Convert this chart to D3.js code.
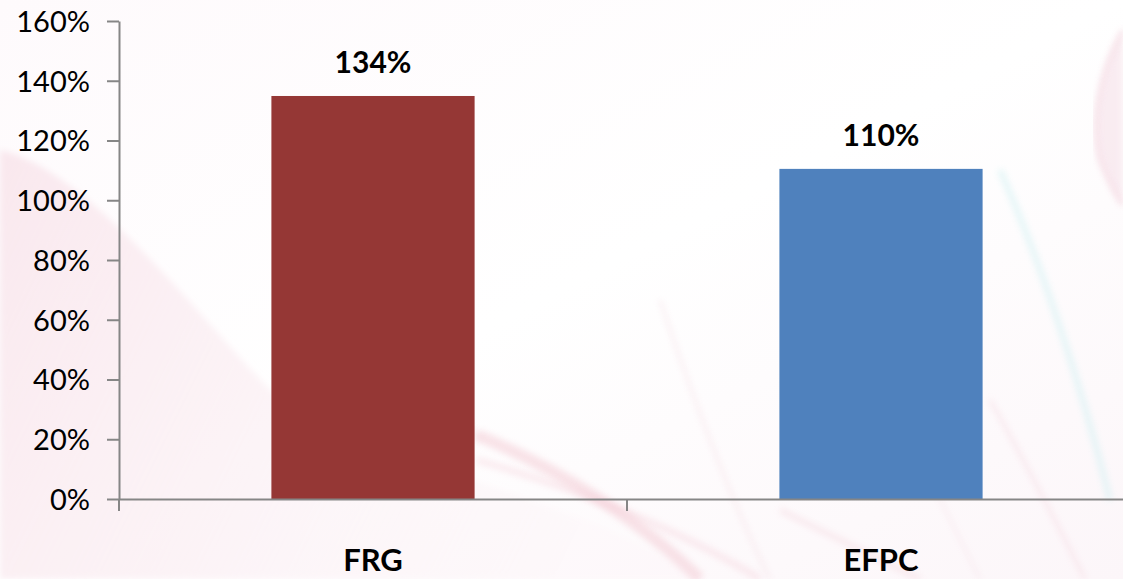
<!DOCTYPE html>
<html>
<head>
<meta charset="utf-8">
<script src="https://cdn.jsdelivr.net/npm/d3@7"></script>
<style>
  html, body { margin: 0; padding: 0; background: #fff; }
  svg { display: block; }
  .axis path, .axis line { stroke: #868686; stroke-width: 2; }
  .axis text { font-family: Lato, "Open Sans", sans-serif; font-size: 29px; fill: #000; }
</style>
</head>
<body>
<div class="viz"></div>
<script>
// chart data
var categories = ["FRG", "EFPC"];
var values = [134.9, 110.5];
var valueLabels = ["134%", "110%"];
var barColors = ["#953735", "#4F81BD"];
var yTicks = [0, 20, 40, 60, 80, 100, 120, 140, 160];

// dimensions
var width = 1123, height = 579;
var margin = { top: 21, left: 119, bottom: 80 };
var plotBottom = height - margin.bottom;

var svg = d3.select(".viz")
    .append("svg")
    .attr("width", width)
    .attr("height", height);

// background: soft pink / cyan swooshes
var defs = svg.append("defs");
var bg = defs.append("linearGradient").attr("id", "bg")
    .attr("x1", 0).attr("y1", 0).attr("x2", 1).attr("y2", 1);
bg.append("stop").attr("offset", 0).attr("stop-color", "#fefafc");
bg.append("stop").attr("offset", 0.5).attr("stop-color", "#ffffff");
bg.append("stop").attr("offset", 1).attr("stop-color", "#fcf6f9");

var pinkFade = defs.append("linearGradient").attr("id", "pinkFade")
    .attr("x1", 0).attr("y1", 0).attr("x2", 1).attr("y2", 0.3);
pinkFade.append("stop").attr("offset", 0).attr("stop-color", "#f8e3ea").attr("stop-opacity", 0.8);
pinkFade.append("stop").attr("offset", 1).attr("stop-color", "#fcf2f6").attr("stop-opacity", 0.3);

defs.append("filter").attr("id", "blur")
    .append("feGaussianBlur").attr("stdDeviation", 3);

var back = svg.append("g").attr("class", "background");
back.append("rect").attr("width", width).attr("height", height).attr("fill", "url(#bg)");

back.append("path")
    .attr("d", "M0,150 C90,170 200,320 280,400 C380,470 540,480 700,579 L0,579 Z")
    .attr("fill", "url(#pinkFade)")
    .attr("filter", "url(#blur)");

back.append("path")
    .attr("d", "M1123,30 C1100,70 1090,120 1100,160 C1108,180 1115,195 1123,205 Z")
    .attr("fill", "#f6e1e9")
    .attr("opacity", 0.6)
    .attr("filter", "url(#blur)");

var swooshes = [
    { d: "M300,160 C360,250 420,360 480,440", c: "#f2d0d9", w: 4, o: 0.35 },
    { d: "M477,435 C560,470 640,520 700,579", c: "#eeb3c0", w: 12, o: 0.35 },
    { d: "M477,460 C580,490 680,530 760,579", c: "#f2c3cf", w: 7, o: 0.3 },
    { d: "M660,300 C700,420 740,520 770,579", c: "#f1d3dc", w: 3, o: 0.4 },
    { d: "M1123,30 C1100,70 1090,120 1100,160 C1108,180 1115,195 1123,205", c: "#efc3d0", w: 4, o: 0.45 },
    { d: "M1000,170 C1040,260 1080,380 1110,500", c: "#c6eef0", w: 6, o: 0.45 },
    { d: "M990,400 C1030,470 1060,530 1085,579", c: "#f2cdd7", w: 3, o: 0.5 },
    { d: "M860,330 C900,420 940,500 980,579", c: "#f3dbe2", w: 3, o: 0.4 },
    { d: "M780,510 C840,540 880,560 920,579", c: "#f0c8d2", w: 6, o: 0.3 }
];
back.selectAll("path.swoosh")
    .data(swooshes)
    .enter()
    .append("path")
    .attr("class", "swoosh")
    .attr("d", d => d.d)
    .attr("fill", "none")
    .attr("stroke", d => d.c)
    .attr("stroke-width", d => d.w)
    .attr("opacity", d => d.o)
    .attr("filter", "url(#blur)");

// scales
var yScale = d3.scaleLinear()
    .domain([0, 160])
    .range([plotBottom, margin.top]);

var xScale = d3.scaleBand()
    .domain(categories)
    .range([margin.left, 1135])
    .padding(0);

var barWidth = xScale.bandwidth() * 0.4;

// bars
svg.append("g")
    .selectAll("rect.bar")
    .data(categories)
    .enter()
    .append("rect")
    .attr("class", "bar")
    .attr("x", d => xScale(d) + (xScale.bandwidth() - barWidth) / 2)
    .attr("width", barWidth)
    .attr("y", (d, i) => yScale(values[i]))
    .attr("height", (d, i) => plotBottom - yScale(values[i]))
    .attr("fill", (d, i) => barColors[i]);

// y axis
var yAxis = d3.axisLeft(yScale)
    .tickValues(yTicks)
    .tickSize(12)
    .tickSizeOuter(0)
    .tickPadding(17)
    .tickFormat(d => d + "%");

svg.append("g")
    .attr("class", "y axis")
    .attr("transform", "translate(" + margin.left + ",0)")
    .call(yAxis)
    .call(g => g.selectAll(".tick text").attr("dy", "0.36em"));

// x axis: baseline plus separators at category edges
var xAxis = d3.axisBottom(xScale).tickSize(0).tickSizeOuter(0).tickFormat("");
var gX = svg.append("g")
    .attr("class", "x axis")
    .attr("transform", "translate(0," + plotBottom + ")")
    .call(xAxis);

var edges = categories.map(d => xScale(d)).concat([xScale.range()[1]]);
gX.selectAll("line.edge")
    .data(edges)
    .enter()
    .append("line")
    .attr("class", "edge")
    .attr("x1", d => d).attr("x2", d => d)
    .attr("y1", 0).attr("y2", 12);

// category labels
svg.append("g")
    .selectAll("text.cat")
    .data(categories)
    .enter()
    .append("text")
    .attr("class", "cat")
    .attr("x", d => xScale(d) + xScale.bandwidth() / 2)
    .attr("y", 571)
    .attr("text-anchor", "middle")
    .style("font-family", "Lato, 'Open Sans', sans-serif")
    .style("font-weight", "bold")
    .style("font-size", "31px")
    .text(d => d);

// value labels
svg.append("g")
    .selectAll("text.value")
    .data(categories)
    .enter()
    .append("text")
    .attr("class", "value")
    .attr("x", d => xScale(d) + xScale.bandwidth() / 2)
    .attr("y", (d, i) => yScale(values[i]) - 23)
    .attr("text-anchor", "middle")
    .style("font-family", "Lato, 'Open Sans', sans-serif")
    .style("font-weight", "bold")
    .style("font-size", "30px")
    .text((d, i) => valueLabels[i]);
</script>
</body>
</html>
